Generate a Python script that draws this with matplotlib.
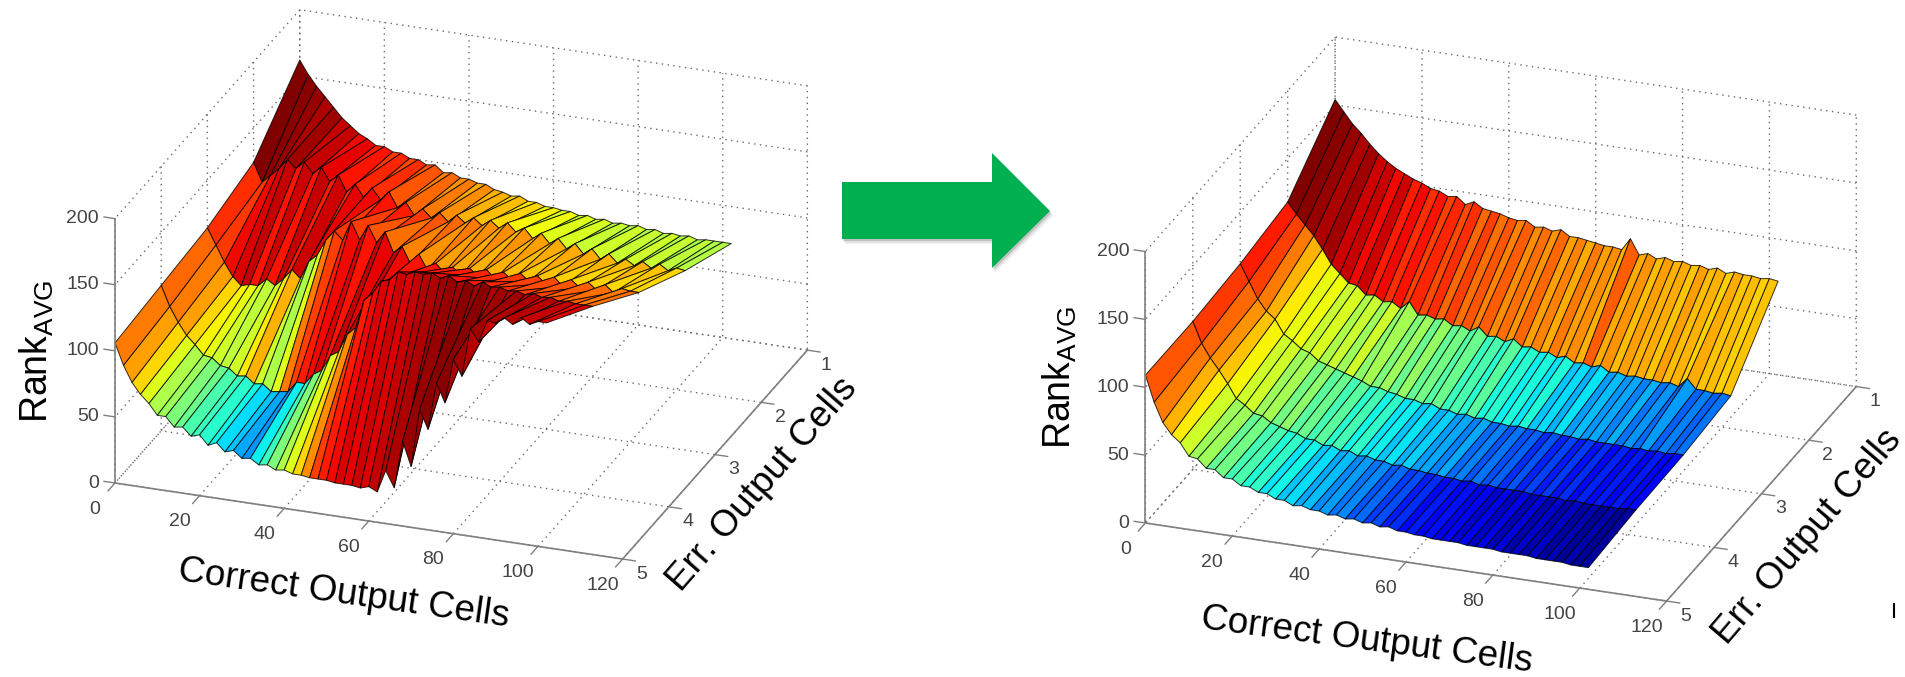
import numpy as np
import matplotlib
matplotlib.use('Agg')
import matplotlib.pyplot as plt
from matplotlib.patches import Polygon
from matplotlib.lines import Line2D
from mpl_toolkits.mplot3d import proj3d

W, H = 1905, 677

plt.rcParams['font.family'] = ['Liberation Sans', 'DejaVu Sans']
plt.rcParams['mathtext.default'] = 'regular'
plt.rcParams['grid.linestyle'] = (0, (1, 3.2))
plt.rcParams['grid.color'] = '#6a6a6a'
plt.rcParams['grid.linewidth'] = 1.0

x_ticks = [0, 20, 40, 60, 80, 100, 120]
y_ticks = [1, 2, 3, 4, 5]
z_ticks = [0, 50, 100, 150, 200]
cells_x = np.arange(0, 103, 2)

# rank values, one list per err. output cells row (1 to 5)
left_z1 = [162,152,144,137,130,123,118,113,110,106, 106,103,103,100,100,97,98,93,94,91,
           91,89,89,86,85,83,84,81,81,79, 79,78,78,76,77,75,76,74,75,74,
           75,73,74,72,73,72,73,71,72,72, 72,72]
left_z2 = [124,110,116,122,130,124,130,122,128,118, 124,112,119,110,118,110,117,106,111,102,
           108,102,107,101,107,102,107,102,107,102, 107,101,105,98,103,96,101,94,99,92,
           97,90,95,89,93,89,93,89,93,89, 92,91]
left_z3 = [114,102,90,80,74,76,76,82,78,84, 92,86,100,106,118,126,120,135,122,134,
           122,131,116,122,110,118,107,113,107,112, 107,113,108,114,108,114,109,115,110,115,
           110,116,110,116,111,116,111,116,111,115, 114,114]
left_z4 = [110,95,84,75,69,62,61,56,55,50, 51,46,47,42,43,44,52,52,60,64,
           76,80,94,100,122,128,138,140,147,146, 149,148,150,147,150,146,148,145,149,146,
           147,145,146,144,146,144,145,143,144,143, 143,143]
left_z5 = [106,90,78,70,64,56,56,49,50,44, 46,39,42,36,38,33,34,30,31,28,
           29,27,27,26,26,26,25,25,25,24, 26,23,40,28,64,46,90,76,112,98,
           132,120,157,148,165,164,169,165,171,167, 170,170]

# face colours as percent along jet, one list per strip between rows
left_c1 = [100,99,98,96,97,94,94,90,91,88, 89,85,87,83,86,82,82,77,80,75,
           78,73,76,72,72,68,71,66,68,64, 65,61,64,59,62,58,61,57,59,56,
           60,56,59,57,60,56,59,55,58,56, 57]
left_c2 = [86,85,90,92,94,89,93,89,94,88, 93,86,91,85,90,85,89,84,88,82,
           85,79,82,77,80,75,78,74,76,73, 76,72,75,72,74,71,73,70,73,70,
           73,69,72,68,71,69,72,68,70,68, 68]
left_c3 = [80,78,74,68,65,63,60,58,60,66, 72,60,56,62,78,84,88,90,92,89,
           94,91,94,90,91,89,92,89,92,88, 91,88,90,87,89,86,88,85,87,84,
           86,83,85,82,84,81,82,79,81,78, 79]
left_c4 = [78,74,68,62,56,54,50,48,44,42, 40,37,34,32,29,27,36,42,50,56,
           62,68,76,84,88,90,92,91,93,92, 94,95,96,97,98,97,99,97,99,96,
           97,95,97,93,96,92,95,91,94,90, 92]

right_z1 = [154,146,138,132,125,119,114,110,107,104, 102,99,98,95,96,91,94,90,89,88,
            86,85,86,82,83,81,83,79,79,78, 77,76,76,75,84,73,75,72,74,72,
            73,71,72,70,72,69,71,70,70,69, 70,69]
right_z2 = [118,110,103,96,87,77,71,65,64,58, 59,55,56,52,58,49,50,48,49,45,
            46,43,47,41,42,39,42,37,38,35, 36,33,35,31,32,30,32,28,29,27,
            28,27,27,26,27,25,32,25,25,24, 25,24]
right_z3 = [112,100,88,80,75,65,61,56,54,49, 47,45,43,41,39,36,36,34,33,31,
            31,29,30,27,27,25,26,24,25,23, 23,22,23,22,22,21,22,21,21,20,
            21,20,20,20,20,19,20,19,20,19, 20,20]
right_z4 = [109,94,84,76,67,57,53,48,47,43, 41,39,38,35,35,32,33,30,31,28,
            29,27,27,25,26,24,24,23,23,22, 22,21,22,20,21,20,20,20,20,19,
            19,19,19,18,19,18,18,18,18,18, 19,19]
right_z5 = [109,90,76,68,63,54,53,47,47,42, 42,38,38,35,35,32,32,29,30,28,
            28,26,27,25,26,24,25,23,24,22, 22,21,21,20,20,20,20,19,19,19,
            19,18,18,18,18,17,17,17,17,16, 16,16]

right_c1 = [100,99,98,96,97,93,94,90,93,88, 90,86,89,84,87,83,86,80,84,79,
            82,77,81,76,79,75,80,74,77,73, 78,74,76,72,81,73,75,71,74,72,
            73,70,74,71,72,69,73,70,71,69, 70]
right_c2 = [88,84,78,72,66,63,64,59,61,56, 59,54,60,52,55,50,54,48,53,47,
            49,45,48,42,44,40,46,38,40,36, 38,35,39,32,34,30,35,28,31,27,
            29,25,30,24,27,23,28,22,25,22, 24]
right_c3 = [85,80,75,70,65,60,60,54,55,49, 52,46,48,43,46,40,43,37,41,35,
            36,32,35,30,33,28,29,25,29,23, 25,21,24,20,22,17,21,16,19,15,
            18,14,17,13,16,13,15,12,15,12, 13]
right_c4 = [82,78,72,66,60,54,54,47,49,43, 44,39,41,35,37,32,34,29,31,26,
            28,24,26,21,23,18,20,15,17,13, 15,11,14,9,11,7,10,6,9,5,
            8,4,7,4,6,3,5,2,4,2, 3]

AXIS_GRAY = '#808080'
TICK_TEXT = '#444444'


def screen_pt(ax, x, y, z):
    xp, yp, _ = proj3d.proj_transform(x, y, z, ax.get_proj())
    return ax.transData.transform((xp, yp))


def fit_axes(ax, origin, corner):
    # origin and corner are pixels (from top left) of the x axis ends
    size = 700.0
    left, bottom = 100.0, 0.0
    for i in range(3):
        ax.set_position([left/W, bottom/H, size/W, size/H])
        p0 = screen_pt(ax, 0, 5, 0)
        p1 = screen_pt(ax, 120, 5, 0)
        size = size*(corner[0]-origin[0])/(p1[0]-p0[0])
        ax.set_position([left/W, bottom/H, size/W, size/H])
        p0 = screen_pt(ax, 0, 5, 0)
        left += origin[0]-p0[0]
        bottom += (H-origin[1])-p0[1]
    ax.set_position([left/W, bottom/H, size/W, size/H])


def tick_text(ax, x, y, z, s, dx, dy, ha='center'):
    px, py = screen_pt(ax, x, y, z)
    ax.figure.text((px+dx)/W, (py+dy)/H, s, fontsize=14, color=TICK_TEXT, ha=ha, va='center')


def draw_surface(ax, rows, colours, origin, corner):
    ax.set_proj_type('ortho')
    ax.view_init(elev=24.3, azim=-70)
    ax.set_box_aspect((1, 1, 0.537))
    ax.set_xlim(0, 120)
    ax.set_ylim(5, 1)
    ax.set_zlim(0, 200)
    ax.set_xticks(x_ticks)
    ax.set_yticks(y_ticks)
    ax.set_zticks(z_ticks)
    ax.set_xticklabels([])
    ax.set_yticklabels([])
    ax.set_zticklabels([])
    for axis in (ax.xaxis, ax.yaxis, ax.zaxis):
        axis.set_pane_color((1, 1, 1, 0))
        axis.pane.set_edgecolor((1, 1, 1, 0))
        axis.line.set_color((1, 1, 1, 0))
        axis._axinfo['tick']['inward_factor'] = 0
        axis._axinfo['tick']['outward_factor'] = 0
    ax.tick_params(color=(1, 1, 1, 0))
    ax.patch.set_alpha(0)

    X, Y = np.meshgrid(cells_x, y_ticks)
    Z = np.array(rows, dtype=float)
    fc = plt.cm.jet(np.array(colours)/100.0)
    surf = ax.plot_surface(X, Y, Z, rstride=1, cstride=1, facecolors=fc, shade=False)
    surf.set_edgecolor((0, 0, 0, 0.8))
    surf.set_linewidth(0.7)

    # matlab style axis lines and ticks
    ax.plot([0, 0], [5, 5], [0, 200], color=AXIS_GRAY, lw=1.2)
    ax.plot([0, 120], [5, 5], [0, 0], color=AXIS_GRAY, lw=1.2)
    ax.plot([120, 120], [5, 1], [0, 0], color=AXIS_GRAY, lw=1.2)
    for t in x_ticks:
        ax.plot([t, t], [5, 5.15], [0, 0], color=AXIS_GRAY, lw=1.0)
    for t in y_ticks:
        ax.plot([120, 123], [t, t], [0, 0], color=AXIS_GRAY, lw=1.0)
    for t in z_ticks:
        ax.plot([0, -2.6], [5, 5], [t, t], color=AXIS_GRAY, lw=1.0)
    fit_axes(ax, origin, corner)
    for t in x_ticks:
        tick_text(ax, t, 5, 0, str(t), -20, -26)
    for t in y_ticks:
        tick_text(ax, 120, t, 0, str(t), 19, -15)
    for t in z_ticks:
        tick_text(ax, 0, 5, t, str(t), -16, 0, ha='right')


fig = plt.figure(figsize=(W/100, H/100), dpi=100, facecolor='white')

ax1 = fig.add_subplot(projection='3d', computed_zorder=False)
draw_surface(ax1, [left_z1, left_z2, left_z3, left_z4, left_z5],
             [left_c1, left_c2, left_c3, left_c4], (115, 483), (622.6, 559))
ax2 = fig.add_axes([0.5, 0, 0.4, 0.4], projection='3d', computed_zorder=False)
draw_surface(ax2, [right_z1, right_z2, right_z3, right_z4, right_z5],
             [right_c1, right_c2, right_c3, right_c4], (1145.4, 523), (1666.6, 601))


def label(px, py, s, rot, size):
    fig.text(px/W, 1-py/H, s, rotation=rot, rotation_mode='anchor', fontsize=size,
             ha='center', va='center', color='black')


label(37, 351, 'Rank$_{AVG}$', 90, 27)
label(344, 594, 'Correct Output Cells', -8, 26.6)
label(762, 484, 'Err. Output Cells', 49, 26.6)
label(1060, 377.5, 'Rank$_{AVG}$', 90, 27)
label(1366.5, 640, 'Correct Output Cells', -7.5, 26.6)
label(1807, 537, 'Err. Output Cells', 49.5, 26.6)

arrow_px = [(842, 182), (992, 182), (992, 153), (1050, 211), (992, 268), (992, 239), (842, 239)]
for off, alpha in [(5, 0.08), (3.5, 0.12), (2, 0.2)]:
    shadow = [((x+off*0.6)/W, 1-(y+off)/H) for x, y in arrow_px]
    fig.add_artist(Polygon(shadow, closed=True, transform=fig.transFigure, facecolor='#555555',
                           edgecolor='none', alpha=alpha))
arrow = [(x/W, 1-y/H) for x, y in arrow_px]
fig.add_artist(Polygon(arrow, closed=True, transform=fig.transFigure, facecolor='#00b050',
                       edgecolor='none'))
fig.add_artist(Line2D([1894/W, 1894/W], [1-604/H, 1-617/H], color='black', lw=1.5))

fig.savefig('out.png', dpi=100)
